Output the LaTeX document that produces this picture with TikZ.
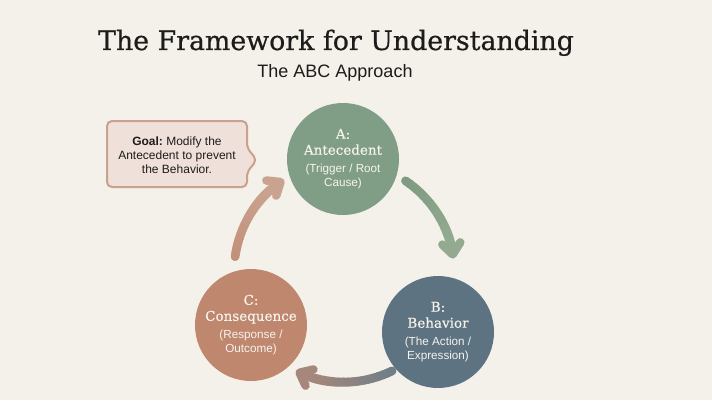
\documentclass[tikz,border=0pt]{standalone}
\usepackage{fontspec}
\setsansfont{Liberation Sans}
\newfontfamily\ser[FakeBold=0.35]{DejaVu Serif}
\newfontfamily\sertitle[FakeBold=0.6]{DejaVu Serif}
\usetikzlibrary{arrows.meta}
\definecolor{bg}{HTML}{F3F1EA}
\definecolor{cA}{HTML}{809E86}
\definecolor{cB}{HTML}{5D7382}
\definecolor{cC}{HTML}{C0876F}
\definecolor{ab0}{HTML}{7E9A82}
\definecolor{ab1}{HTML}{93AA91}
\definecolor{bc0}{HTML}{6E7E89}
\definecolor{bc1}{HTML}{A5877B}
\definecolor{ca0}{HTML}{C2907A}
\definecolor{ca1}{HTML}{CAA390}
\definecolor{goalfill}{HTML}{EFE1DA}
\definecolor{goaldraw}{HTML}{C9A18C}
\definecolor{txt}{HTML}{1E1C1A}
\definecolor{ctext}{HTML}{F6F3EC}
\newcommand\hd{\ser\fontsize{13.5}{16}\selectfont}
\newcommand\cycarrow[4]{%
  \draw[arr, #4] ([shift={(#1:110)}]cyc) arc[start angle=#1, end angle=#2, radius=110];
  \foreach \i in {1,...,16}{%
    \pgfmathsetmacro\ta{#1+(#2-#1)*0.8*(\i-1)/16}%
    \pgfmathsetmacro\tb{\ta+(#2-#1)*0.8*1.2/16}%
    \pgfmathtruncatemacro\pc{100-100*(\i-0.5)/16}%
    \ifnum\i=1\relax
      \draw[line width=8.5pt, line cap=round, #3!\pc!#4] ([shift={(\ta:110)}]cyc) arc[start angle=\ta, end angle=\tb, radius=110];
    \else
      \draw[line width=8.5pt, line cap=butt, #3!\pc!#4] ([shift={(\ta:110)}]cyc) arc[start angle=\ta, end angle=\tb, radius=110];
    \fi
  }%
}
\begin{document}
\begin{tikzpicture}[x=1pt,y=1pt,
  abc/.style={circle, minimum size=112pt, inner sep=0pt, text=ctext, align=center,
    font=\sffamily\fontsize{11.7}{14}\selectfont},
  arr/.style={line width=8.5pt, line cap=round, -{Straight Barb[length=11pt, width=18pt, round]}}]
\fill[bg] (0,0) rectangle (712,400);
\useasboundingbox (0,0) rectangle (712,400);
\node[font=\sertitle\fontsize{26.8}{30}\selectfont, anchor=base, text=txt] (title) at (336,350) {The Framework for Understanding};
\node[font=\sffamily\fontsize{18}{20}\selectfont, anchor=base, text=txt] (sub) at (335,323) {The ABC Approach};
\coordinate (cyc) at (344,128);
\node[abc, fill=cA] (A) at (343,241) {\hd A:\\[2pt]\hd Antecedent\\[4pt](Trigger / Root\\Cause)};
\node[abc, fill=cB] (B) at (438,68) {\hd B:\\[2pt]\hd Behavior\\[4pt](The Action /\\Expression)};
\node[abc, fill=cC] (C) at (251,75) {\hd C:\\[2pt]\hd Consequence\\[4pt](Response /\\Outcome)};
\cycarrow{56}{7}{ab0}{ab1}
\cycarrow{-64}{-116}{bc0}{bc1}
\cycarrow{172}{123}{ca0}{ca1}
\draw[fill=goalfill, draw=goaldraw, line width=2pt, rounded corners=5pt]
  (247,252) -- (247,279) -- (107,279) -- (107,213) -- (247,213) -- (247,228) -- (257,240) -- cycle;
\node[font=\sffamily\fontsize{12}{14}\selectfont, align=center, text=txt] (goal) at (177,245)
  {\textbf{Goal:}~Modify the\\Antecedent to prevent\\the Behavior.};
\end{tikzpicture}
\end{document}
